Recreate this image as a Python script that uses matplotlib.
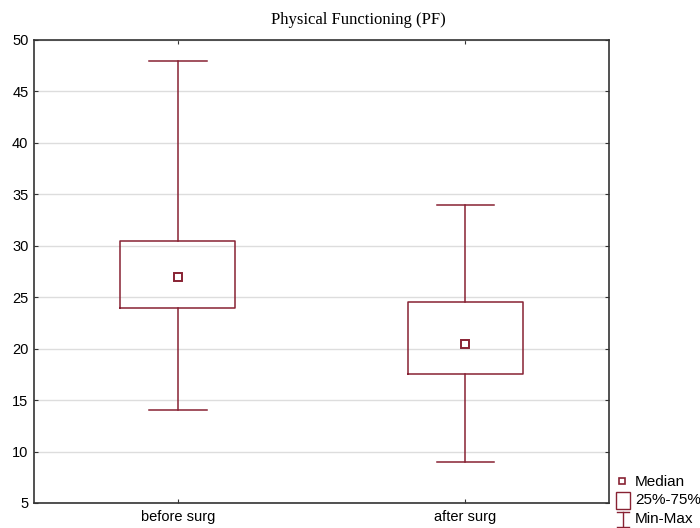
import matplotlib.pyplot as plt
from matplotlib.patches import Rectangle
from matplotlib.lines import Line2D

# Summary statistics per group
groups = ['before surg', 'after surg']
minimum = [14, 9]
q1 = [24, 17.5]
median = [27, 20.5]
q3 = [30.5, 24.5]
maximum = [48, 34]

col = '#882233'

fig = plt.figure(figsize=(7, 5.28), dpi=100)
ax = fig.add_axes([34 / 700, 1 - 503 / 528, 575 / 700, 463 / 528])

stats = []
for i, g in enumerate(groups):
    stats.append({'label': g, 'whislo': minimum[i], 'q1': q1[i], 'med': median[i],
                  'q3': q3[i], 'whishi': maximum[i], 'fliers': []})

ax.bxp(stats, positions=range(len(groups)), widths=0.4, showfliers=False,
       boxprops=dict(color=col, linewidth=1.1),
       whiskerprops=dict(color=col, linewidth=1.1),
       capprops=dict(color=col, linewidth=1.1),
       medianprops=dict(linewidth=0), capwidths=0.2, zorder=3)
ax.plot(range(len(groups)), median, 's', ms=5.5, mfc='white', mec=col, mew=1.4, zorder=4)

ax.set_xlim(-0.5, 1.5)
ax.set_ylim(5, 50)
ax.set_yticks(range(5, 51, 5))
ax.yaxis.grid(True, color='#dddddd', linewidth=1)
ax.set_axisbelow(True)
ax.tick_params(direction='in', length=3, top=True, right=True, labelsize=10.5,
               colors='#333333', labelcolor='black', pad=4)
ax.tick_params(axis='x', pad=5)
for s in ax.spines.values():
    s.set_color('#333333')
    s.set_linewidth(1.2)
for lab in ax.get_xticklabels() + ax.get_yticklabels():
    lab.set_family('Liberation Sans')

fig.text(358 / 700, 1 - 20 / 528, 'Physical Functioning (PF)',
         family='Liberation Serif', fontsize=12, ha='center', va='center')

# legend drawn by hand at the lower right
fig.add_artist(Rectangle((619 / 700, 1 - 484 / 528), 6 / 700, 6 / 528, fill=False,
                         ec=col, lw=1.2, transform=fig.transFigure))
fig.add_artist(Rectangle((616 / 700, 1 - 509 / 528), 14 / 700, 17 / 528, fill=False,
                         ec=col, lw=1.0, transform=fig.transFigure))
fig.add_artist(Line2D([623 / 700, 623 / 700], [1 - 512 / 528, 1 - 527 / 528],
                      color=col, lw=1.0, transform=fig.transFigure))
fig.add_artist(Line2D([617 / 700, 629 / 700], [1 - 512 / 528, 1 - 512 / 528],
                      color=col, lw=1.0, transform=fig.transFigure))
fig.add_artist(Line2D([617 / 700, 629 / 700], [1 - 527 / 528, 1 - 527 / 528],
                      color=col, lw=1.0, transform=fig.transFigure))
for y, t in zip([482, 500, 519], ['Median', '25%-75%', 'Min-Max']):
    fig.text(635 / 700, 1 - y / 528, t, family='Liberation Sans', fontsize=11,
             va='center', ha='left')

fig.savefig('out.png', dpi=100)
